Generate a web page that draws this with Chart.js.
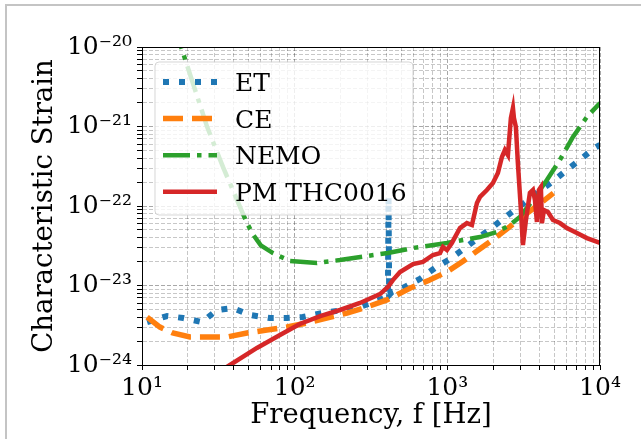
<!DOCTYPE html>
<html>
<head>
<meta charset="utf-8">
<title>Characteristic Strain</title>
<script src="https://cdn.jsdelivr.net/npm/chart.js@4.4.1/dist/chart.umd.min.js"></script>
<style>
  html, body { margin: 0; padding: 0; background: #fff; }
  #wrap { position: relative; width: 641px; height: 439px; overflow: hidden; }
  #wrap canvas { position: absolute; left: 0; top: 0; }
  #frame {
    position: absolute; left: 5px; top: 4px; right: -4px; bottom: -4px;
    border-top: 2px solid #c4c4c4; border-left: 2px solid #c4c4c4;
    pointer-events: none;
  }
</style>
</head>
<body>
<div id="wrap">
  <canvas id="strainChart" width="641" height="439"></canvas>
  <div id="frame"></div>
</div>
<script>
// Data (frequency in Hz, characteristic strain)
const etFreq = [10.8, 14.6, 18.6, 24.7, 31, 39.4, 51, 68.9, 89, 113, 153, 207, 268, 326, 408,
    412, 416, 434, 512, 662, 830, 1040, 1303, 1585, 1990, 2494, 3126, 3860, 4840, 6070, 7380, 9260, 10000];
const etStrain = [3.47e-24, 4.13e-24, 3.9e-24, 3.47e-24, 4.92e-24, 5.21e-24, 4.26e-24, 3.9e-24, 3.9e-24,
    4.02e-24, 4.51e-24, 4.92e-24, 5.37e-24, 6.2e-24, 7.2e-24, 1.3e-22, 7.6e-24, 8.3e-24, 9.3e-24,
    1.21e-23, 1.66e-23, 2.15e-23, 2.96e-23, 3.95e-23, 5.44e-23, 7.7e-23, 1.06e-22, 1.46e-22, 2.0e-22,
    2.84e-22, 3.8e-22, 5.4e-22, 5.85e-22];

const ceFreq = [10.8, 13.1, 15.9, 20.6, 26.6, 36, 48.7, 65.8, 89, 120, 162, 220, 297, 402, 467, 593,
    766, 990, 1260, 1640, 2110, 2570, 3120, 3860, 4950];
const ceStrain = [4.0e-24, 3.0e-24, 2.53e-24, 2.25e-24, 2.25e-24, 2.25e-24, 2.53e-24, 2.75e-24, 3.0e-24,
    3.37e-24, 3.9e-24, 4.5e-24, 5.37e-24, 6.58e-24, 7.6e-24, 9.6e-24, 1.17e-23, 1.48e-23, 2.0e-23,
    2.9e-23, 4.1e-23, 5.5e-23, 7.4e-23, 1.0e-22, 1.45e-22];

const nemoFreq = [16, 18.3, 26.7, 33.9, 43.9, 48.5, 53.3, 60, 72.1, 93.1, 140, 198, 297, 408, 595, 994,
    1636, 2113, 2571, 2987, 3636, 4488, 5460, 6650, 8210, 10000];
const nemoStrain = [2.0e-20, 9.2e-21, 9.9e-22, 3.1e-22, 9.7e-23, 6.2e-23, 4.4e-23, 3.2e-23, 2.56e-23,
    2.03e-23, 1.92e-23, 2.09e-23, 2.35e-23, 2.56e-23, 2.96e-23, 3.43e-23, 4.07e-23, 4.71e-23, 5.77e-23,
    7.28e-23, 1.19e-22, 2.12e-22, 3.79e-22, 7.38e-22, 1.32e-21, 1.98e-21];

const pmFreq = [30, 37.7, 56.6, 80.1, 108, 147, 198, 268, 362, 408, 440, 490, 596, 692, 805, 895, 936,
    994, 1071, 1210, 1343, 1449, 1563, 1636, 1816, 1990, 2144, 2278, 2383, 2494, 2608, 2690, 2730, 2812,
    2897, 3034, 3126, 3273, 3474, 3638, 3749, 3862, 3980, 4100, 4165, 4293, 4560, 4920, 5460, 6070,
    7060, 8210, 10000];
const pmStrain = [7.6e-25, 1.0e-24, 1.64e-24, 2.38e-24, 3.28e-24, 4.13e-24, 4.92e-24, 6.03e-24, 7.8e-24,
    9.57e-24, 1.17e-23, 1.48e-23, 1.86e-23, 1.98e-23, 2.42e-23, 2.56e-23, 3.05e-23, 2.8e-23, 3.43e-23,
    5.28e-23, 6.1e-23, 5.77e-23, 1.09e-22, 1.30e-22, 1.59e-22, 1.95e-22, 2.6e-22, 4.13e-22, 5.06e-22,
    4.38e-22, 1.28e-21, 1.71e-21, 1.28e-21, 9.86e-22, 3.48e-22, 8.9e-23, 3.23e-23, 6.67e-23, 1.46e-22,
    1.59e-22, 1.19e-22, 6.3e-23, 1.59e-22, 1.73e-22, 6.1e-23, 8.9e-23, 8.4e-23, 6.67e-23, 6.1e-23,
    5.28e-23, 4.57e-23, 3.95e-23, 3.43e-23];

const seriesLabels = ['ET', 'CE', 'NEMO', 'PM THC0016'];
const xRange = [10, 1e4];
const yRange = [1e-24, 1e-20];

const FONT = "'DejaVu Serif', 'Liberation Serif', serif";
const SUP = { '-': '\u207B', '0': '\u2070', '1': '\u00B9', '2': '\u00B2', '3': '\u00B3',
    '4': '\u2074', '5': '\u2075', '6': '\u2076', '7': '\u2077', '8': '\u2078', '9': '\u2079' };

/**
 * Pair up frequency and strain arrays as {x, y} points
 */
function toPoints(freq, strain) {
    return freq.map((f, i) => ({ x: f, y: strain[i] }));
}

/**
 * True if value is an exact power of ten
 */
function isDecade(value) {
    const lg = Math.log10(value);
    return Math.abs(lg - Math.round(lg)) < 1e-9;
}

/**
 * Label like 10^-22 written with superscript characters
 */
function decadeLabel(value) {
    if (!isDecade(value)) return '';
    const exp = String(Math.round(Math.log10(value)));
    return '10' + exp.split('').map(c => SUP[c]).join('');
}

/**
 * Major + minor ticks (1..9 x 10^n) between min and max
 */
function logTicks(scale) {
    const lo = Math.round(Math.log10(scale.min));
    const hi = Math.round(Math.log10(scale.max));
    const ticks = [];
    for (let e = lo; e < hi; e++) {
        for (let k = 1; k <= 9; k++) {
            ticks.push({ value: Number(k + 'e' + e) });
        }
    }
    ticks.push({ value: Number('1e' + hi) });
    scale.ticks = ticks;
}

function gridColor(ctx) {
    if (!ctx.tick) return 'rgba(0,0,0,0.25)';
    return isDecade(ctx.tick.value) ? 'rgba(0,0,0,0.34)' : 'rgba(0,0,0,0.22)';
}

// Frame on all four sides plus a matplotlib-like legend inside the axes
const frameLegendPlugin = {
    id: 'frameLegend',
    afterDatasetsDraw(chart) {
        const { ctx, chartArea: a } = chart;
        ctx.save();
        ctx.setLineDash([]);
        ctx.strokeStyle = '#000';
        ctx.lineWidth = 1;
        ctx.strokeRect(a.left + 0.5, a.top + 0.5, a.right - a.left - 1, a.bottom - a.top);

        const lx = a.left + 13, ly = a.top + 15, lw = 258, lh = 153;
        ctx.beginPath();
        ctx.roundRect(lx, ly, lw, lh, 4);
        ctx.fillStyle = 'rgba(255,255,255,0.8)';
        ctx.fill();
        ctx.strokeStyle = 'rgba(204,204,204,0.8)';
        ctx.stroke();

        ctx.font = '25px ' + FONT;
        ctx.textBaseline = 'alphabetic';
        ctx.textAlign = 'left';
        chart.data.datasets.forEach((ds, i) => {
            const y = ly + 20 + i * 36.6;
            ctx.beginPath();
            ctx.setLineDash(ds.borderDash || []);
            ctx.lineCap = 'butt';
            ctx.strokeStyle = ds.borderColor;
            ctx.lineWidth = ds.borderWidth;
            ctx.moveTo(lx + 8, y);
            ctx.lineTo(lx + 62, y);
            ctx.stroke();
            ctx.setLineDash([]);
            ctx.fillStyle = '#000';
            ctx.fillText(ds.label, lx + 80, y + 9);
        });
        ctx.restore();
    }
};

document.addEventListener('DOMContentLoaded', function() {
    const ctx = document.getElementById('strainChart').getContext('2d');

    const common = { pointRadius: 0, tension: 0, fill: false, clip: 0, borderCapStyle: 'butt' };

    new Chart(ctx, {
        type: 'line',
        data: {
            datasets: [
                Object.assign({
                    label: seriesLabels[0],
                    data: toPoints(etFreq, etStrain),
                    borderColor: '#1f77b4',
                    borderWidth: 6,
                    borderDash: [6, 10],
                    order: 3
                }, common),
                Object.assign({
                    label: seriesLabels[1],
                    data: toPoints(ceFreq, ceStrain),
                    borderColor: '#ff7f0e',
                    borderWidth: 5.5,
                    borderDash: [20, 9],
                    order: 2
                }, common),
                Object.assign({
                    label: seriesLabels[2],
                    data: toPoints(nemoFreq, nemoStrain),
                    borderColor: '#2ca02c',
                    borderWidth: 4.5,
                    borderDash: [27, 7, 4.5, 7],
                    order: 1
                }, common),
                Object.assign({
                    label: seriesLabels[3],
                    data: toPoints(pmFreq, pmStrain),
                    borderColor: '#d62728',
                    borderWidth: 4.5,
                    order: 0
                }, common)
            ]
        },
        options: {
            responsive: false,
            animation: false,
            events: [],
            layout: { padding: { top: 47, right: 41, left: 0, bottom: 0 } },
            plugins: {
                legend: { display: false },
                tooltip: { enabled: false }
            },
            scales: {
                x: {
                    type: 'logarithmic',
                    position: 'bottom',
                    min: xRange[0],
                    max: xRange[1],
                    afterBuildTicks: logTicks,
                    afterFit: scale => { scale.height = 74; },
                    grid: { color: gridColor, lineWidth: 1, tickLength: 5, tickColor: '#000' },
                    border: { display: true, color: '#000', width: 1, dash: [4, 2] },
                    ticks: {
                        autoSkip: false,
                        maxRotation: 0,
                        padding: 3,
                        color: '#000',
                        font: { family: FONT, size: 25 },
                        callback: value => decadeLabel(value)
                    },
                    title: {
                        display: true,
                        text: 'Frequency, f [Hz]',
                        color: '#000',
                        font: { family: FONT, size: 27.5 },
                        padding: { top: 0, bottom: 7 }
                    }
                },
                y: {
                    type: 'logarithmic',
                    min: yRange[0],
                    max: yRange[1],
                    afterBuildTicks: logTicks,
                    afterFit: scale => { scale.width = 142; },
                    grid: { color: gridColor, lineWidth: 1, tickLength: 5, tickColor: '#000' },
                    border: { display: true, color: '#000', width: 1, dash: [4, 2] },
                    ticks: {
                        autoSkip: false,
                        padding: 5,
                        color: '#000',
                        font: { family: FONT, size: 25 },
                        callback: value => decadeLabel(value)
                    },
                    title: {
                        display: true,
                        text: 'Characteristic Strain',
                        color: '#000',
                        font: { family: FONT, size: 27.5 },
                        padding: { top: 28, bottom: 0 }
                    }
                }
            }
        },
        plugins: [frameLegendPlugin]
    });
});
</script>
</body>
</html>
